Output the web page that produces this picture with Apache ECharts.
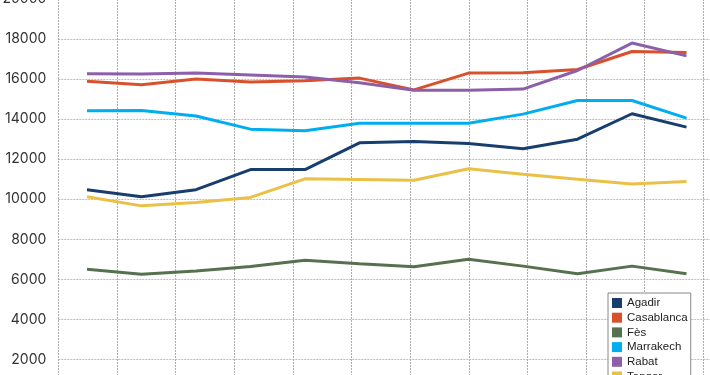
<!DOCTYPE html>
<html>
<head>
<meta charset="utf-8">
<script src="https://cdn.jsdelivr.net/npm/echarts@6/dist/echarts.min.js"></script>
<style>
html,body{margin:0;padding:0;background:#fff;}
#chart{width:710px;height:375px;}
</style>
</head>
<body>
<div id="chart"></div>
<script>
// Periods (x-axis labels are outside the visible crop)
const categories = ['T1','T2','T3','T4','T5','T6','T7','T8','T9','T10','T11','T12'];
const yTicks = [0,2000,4000,6000,8000,10000,12000,14000,16000,18000,20000];

const agadir     = [10480, 10120, 10480, 11480, 11480, 12820, 12880, 12780, 12520, 13000, 14270, 13600];
const casablanca = [15890, 15720, 16010, 15850, 15920, 16050, 15460, 16300, 16320, 16480, 17380, 17330];
const fes        = [6500, 6250, 6420, 6640, 6950, 6780, 6630, 7000, 6660, 6280, 6660, 6280];
const marrakech  = [14420, 14430, 14160, 13500, 13420, 13800, 13800, 13800, 14250, 14930, 14930, 14050];
const rabat      = [16270, 16250, 16310, 16210, 16110, 15820, 15440, 15440, 15500, 16430, 17800, 17160];
const tanger     = [10120, 9670, 9840, 10090, 11020, 10990, 10950, 11520, 11250, 11000, 10760, 10890];

const seriesNames = ['Agadir','Casablanca','Fès','Marrakech','Rabat','Tanger'];
const seriesData = [agadir, casablanca, fes, marrakech, rabat, tanger];
const colors = ['#173e6d','#d9512c','#57704f','#00aeef','#8c5fa8','#eac146'];

const chart = echarts.init(document.getElementById('chart'), null, {renderer:'canvas'});
const hGrid = {show:true, lineStyle:{color:'#bdbdbd', type:[2,1], width:1}};
const vGrid = {show:true, lineStyle:{color:'#adadad', type:[2,1], width:1}};

chart.setOption({
  backgroundColor:'#fff',
  animation:false,
  color: colors,
  grid:[
    {left:58.3, right:-52, top:-1, bottom:-24.5, outerBoundsMode:'none', containLabel:false},
    {left:59.75, right:-3.75, top:-1, bottom:-24.5, outerBoundsMode:'none', containLabel:false}
  ],
  xAxis:[
    {type:'value', gridIndex:0, min:0, max:12, interval:1,
     axisLabel:{show:false}, axisLine:{show:false}, axisTick:{show:false},
     splitLine:vGrid},
    {type:'category', gridIndex:1, data:categories, boundaryGap:true,
     axisLabel:{show:false}, axisLine:{show:false}, axisTick:{show:false},
     splitLine:{show:false}}
  ],
  yAxis:[
    {type:'value', gridIndex:0, min:yTicks[0], max:yTicks[yTicks.length-1], interval:2000,
     axisLine:{show:false}, axisTick:{show:false},
     axisLabel:{show:true, color:'#333', fontFamily:'Inter, Roboto, sans-serif', fontSize:14, margin:12,
                showMaxLabel:true, showMinLabel:true, formatter:(v)=>String(v)},
     splitLine:hGrid},
    {type:'value', gridIndex:1, min:yTicks[0], max:yTicks[yTicks.length-1], interval:2000, show:false,
     splitLine:{show:false}}
  ],
  legend:{
    type:'plain',
    orient:'vertical',
    left:608, top:293, height:140,
    data:seriesNames,
    icon:'rect',
    itemWidth:10, itemHeight:10, itemGap:2.7,
    padding:[4,3,4,4],
    borderColor:'#888', borderWidth:1, borderRadius:0,
    backgroundColor:'#fff',
    textStyle:{fontFamily:'"Liberation Sans", Arial, sans-serif', fontSize:11.5, color:'#222', lineHeight:12}
  },
  series: seriesNames.map((n,i)=>({
    name:n, type:'line', xAxisIndex:1, yAxisIndex:1,
    data:seriesData[i], showSymbol:false, symbol:'none',
    lineStyle:{width:3, color:colors[i]},
    itemStyle:{color:colors[i]}
  }))
});
</script>
</body>
</html>
